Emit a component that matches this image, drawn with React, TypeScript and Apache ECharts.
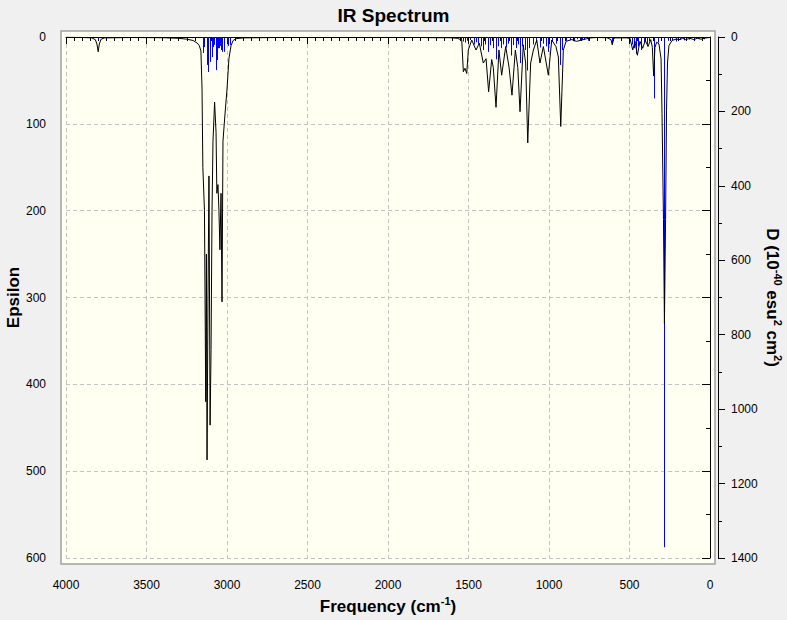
import React, { useEffect, useRef } from 'react';
import * as echarts from 'echarts';

// ---- Data ----
// Broadened IR spectrum: [frequency cm-1, epsilon]
const spectrumHighFreq: [number, number][] = [
  [4000, 0.3], [3900, 0.5], [3840, 1], [3818, 3], [3808, 8], [3800, 17], [3793, 8],
  [3782, 2.5], [3760, 1], [3600, 0.6], [3400, 0.8], [3300, 1.5], [3250, 2.5], [3211, 4],
  [3185, 7], [3172, 10], [3162, 16], [3155, 60], [3150, 150], [3140, 200], [3132, 420],
  [3128, 250], [3124, 487], [3118, 300], [3112, 160], [3105, 447], [3099, 360], [3093, 200],
  [3087, 120], [3077, 75], [3068, 110], [3063, 180], [3056, 170], [3050, 200], [3044, 245],
  [3037, 180], [3031, 305], [3025, 120], [3013, 90], [3000, 60], [2988, 25], [2975, 10],
  [2962, 4], [2944, 2], [2900, 1], [2700, 0.6], [2000, 0.5], [1800, 0.6], [1700, 0.8],
];
const spectrumFingerprint: [number, number][] = [
  [1615, 0.8], [1570, 1.5], [1542, 3.5], [1532, 40], [1522, 36], [1511, 42], [1501, 15],
  [1480, 3.5], [1453, 15], [1433, 7], [1408, 30], [1391, 25], [1375, 63], [1356, 26],
  [1346, 35], [1329, 81], [1311, 15], [1294, 44], [1269, 11], [1248, 35], [1230, 67],
  [1209, 15], [1194, 35], [1180, 86], [1160, 9], [1145, 30], [1132, 122], [1114, 30],
  [1097, 15], [1076, 3.5], [1056, 30], [1035, 11], [1004, 44], [983, 3.5], [957, 11],
  [942, 23], [927, 103], [911, 15], [894, 5], [859, 3], [828, 5], [797, 3.5], [766, 2],
];
const spectrumLowFreq: [number, number][] = [
  [740, 1], [700, 0.6], [640, 0.8], [615, 3], [607, 9], [598, 2], [590, 1], [520, 1],
  [497, 1.5], [480, 15], [466, 5], [451, 21], [435, 5], [418, 13], [402, 4], [385, 11],
  [368, 3], [358, 12], [350, 45], [342, 12], [331, 6], [317, 8], [304, 25], [298, 88],
  [289, 210], [283, 330], [276, 210], [270, 85], [264, 30], [255, 10], [236, 4], [211, 2.5],
  [186, 3], [170, 1.5], [150, 3], [125, 1.5], [100, 3], [80, 1.5], [55, 2.5], [30, 1.2], [0, 0.5],
];

// Calculated transitions (sticks): [frequency cm-1, D (10^-40 esu^2 cm^2)]
const sticksHigh: [number, number][] = [
  [3802, 8],
  [3151, 43], [3143, 27], [3126, 75], [3116, 94], [3106, 67], [3095, 54], [3089, 27],
  [3079, 21], [3068, 89], [3060, 62], [3054, 30], [3048, 30], [3042, 24], [3037, 35],
  [3031, 40], [3019, 40], [3002, 16], [2992, 24], [2981, 21],
];
const sticksMid: [number, number][] = [
  [1547, 8], [1534, 12], [1522, 15], [1509, 10], [1491, 8], [1466, 20], [1453, 14],
  [1441, 18], [1422, 25], [1410, 35], [1398, 20], [1379, 40], [1366, 22], [1348, 30],
  [1329, 60], [1317, 25], [1298, 30], [1286, 20], [1267, 28], [1255, 18], [1236, 50],
  [1224, 22], [1205, 30], [1193, 20], [1180, 70], [1168, 25], [1149, 35], [1137, 90],
  [1124, 30], [1099, 20], [1081, 15], [1056, 28], [1037, 18], [1019, 25], [1006, 40],
  [981, 12], [957, 18], [932, 75], [919, 35], [894, 10], [870, 8], [845, 12], [826, 6],
  [807, 9], [795, 7], [783, 7], [758, 10],
];
const sticksLow: [number, number][] = [
  [607, 16], [484, 20], [472, 30], [460, 45], [447, 25], [429, 35], [410, 15], [391, 20],
  [379, 12], [348, 165], [323, 15], [283, 1371], [261, 10], [236, 8], [211, 12], [186, 6],
  [161, 9], [130, 7], [99, 10], [68, 5], [37, 6],
];

const spectrum = [...spectrumHighFreq, ...spectrumFingerprint, ...spectrumLowFreq];
const sticks = [...sticksHigh, ...sticksMid, ...sticksLow];

const FONT = 'Liberation Sans, Arial, sans-serif';
const plainNumber = (v: number) => String(v);

export default function App() {
  const ref = useRef<HTMLDivElement>(null);

  useEffect(() => {
    document.body.style.margin = '0';
    if (!ref.current) return;
    const chart = echarts.init(ref.current, undefined, { renderer: 'svg' });

    const nameRich = {
      b: { fontSize: 17, fontWeight: 'bold', fontFamily: FONT, color: '#000', lineHeight: 22 },
      s: { fontSize: 11, fontWeight: 'bold', fontFamily: FONT, color: '#000', lineHeight: 12, verticalAlign: 'top' },
    };

    const option: any = {
      animation: false,
      backgroundColor: '#F0F0F0',
      title: {
        text: 'IR Spectrum',
        left: 'center',
        top: 1,
        textStyle: { fontSize: 19, fontWeight: 'bold', fontFamily: FONT, color: '#000' },
      },
      graphic: [
        {
          type: 'rect',
          silent: true,
          z: -100,
          shape: { x: 61, y: 31, width: 654, height: 533 },
          style: { fill: '#FFFFF2', stroke: '#A0A0A0', lineWidth: 1.5 },
        },
      ],
      grid: { left: 66, right: 77, top: 37, bottom: 62, containLabel: false, outerBoundsMode: 'none' },
      xAxis: {
        type: 'value',
        min: 0,
        max: 4000,
        interval: 500,
        inverse: true,
        offset: 10,
        axisLine: { show: true, lineStyle: { color: '#000', width: 1 } },
        axisTick: { show: true, length: 7, lineStyle: { color: '#000' } },
        minorTick: { show: true, splitNumber: 10, length: 4, lineStyle: { color: '#000' } },
        axisLabel: { color: '#000', fontSize: 12, fontFamily: FONT, margin: 11, formatter: plainNumber },
        splitLine: { show: true, lineStyle: { color: '#C4C4C4', type: [4, 3] } },
        name: '{b|Frequency (cm}{s|-1}{b|)}',
        nameLocation: 'middle',
        nameGap: 27,
        nameMoveOverlap: false,
        nameTextStyle: { rich: nameRich },
      },
      yAxis: [
        {
          type: 'value',
          position: 'left',
          min: 0,
          max: 600,
          interval: 100,
          inverse: true,
          offset: 8,
          axisLine: { show: true, lineStyle: { color: '#000', width: 1 } },
          axisTick: { show: true, length: 8, lineStyle: { color: '#000' } },
          minorTick: { show: true, splitNumber: 2, length: 4, lineStyle: { color: '#000' } },
          axisLabel: { color: '#000', fontSize: 12, fontFamily: FONT, margin: 12, formatter: plainNumber },
          splitLine: { show: true, lineStyle: { color: '#C4C4C4', type: [4, 3] } },
          name: '{b|Epsilon}',
          nameLocation: 'middle',
          nameGap: 34,
          nameMoveOverlap: false,
          nameTextStyle: { rich: nameRich },
        },
        {
          type: 'value',
          position: 'right',
          min: 0,
          max: 1400,
          interval: 200,
          inverse: true,
          offset: 8,
          axisLine: { show: true, lineStyle: { color: '#000', width: 1 } },
          axisTick: { show: true, length: 7, lineStyle: { color: '#000' } },
          minorTick: { show: true, splitNumber: 2, length: 4, lineStyle: { color: '#000' } },
          axisLabel: { color: '#000', fontSize: 12, fontFamily: FONT, margin: 13, formatter: plainNumber },
          splitLine: { show: false },
          name: '{b|D (10}{s|-40}{b| esu}{s|2}{b| cm}{s|2}{b|)}',
          nameLocation: 'middle',
          nameGap: 43,
          nameRotate: -90,
          nameMoveOverlap: false,
          nameTextStyle: { rich: nameRich },
        },
      ],
      series: [
        {
          type: 'custom',
          name: 'sticks',
          xAxisIndex: 0,
          yAxisIndex: 1,
          z: 2,
          data: sticks,
          encode: { x: 0, y: 1 },
          renderItem: (_params: any, api: any) => {
            const f = api.value(0);
            const d = api.value(1);
            const p0 = api.coord([f, 0]);
            const p1 = api.coord([f, d]);
            const x = Math.round(p0[0]) + 0.5;
            return {
              type: 'line',
              shape: { x1: x, y1: p0[1], x2: x, y2: p1[1] },
              style: { stroke: '#0000FF', lineWidth: 1 },
            };
          },
        },
        {
          type: 'line',
          name: 'spectrum',
          xAxisIndex: 0,
          yAxisIndex: 0,
          z: 3,
          data: spectrum,
          symbol: 'none',
          lineStyle: { color: '#000', width: 1 },
        },
      ],
    };

    chart.setOption(option);
    return () => chart.dispose();
  }, []);

  return <div ref={ref} style={{ width: 787, height: 620 }} />;
}
